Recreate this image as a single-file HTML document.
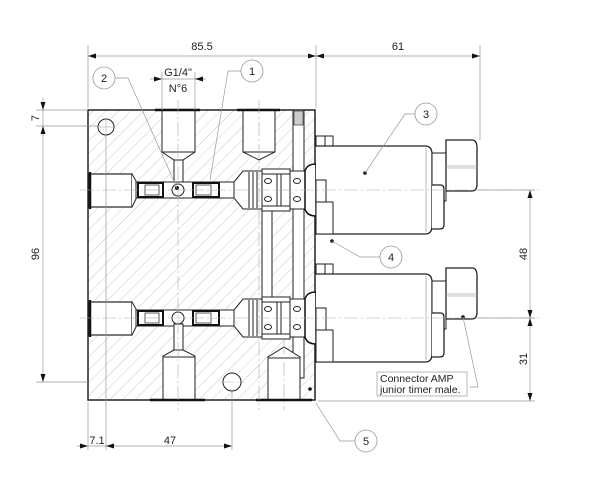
<!DOCTYPE html>
<html><head><meta charset="utf-8"><style>
html,body{margin:0;padding:0;background:#fff;}
svg{display:block;font-family:"Liberation Sans",sans-serif;}
</style></head><body>
<svg width="600" height="503" viewBox="0 0 600 503" xmlns="http://www.w3.org/2000/svg">
<defs>
<pattern id="h" width="9" height="9" patternUnits="userSpaceOnUse" patternTransform="rotate(45)">
<line x1="0" y1="0" x2="0" y2="9" stroke="#bbb" stroke-width="0.8"/>
</pattern>
<g id="valve">
 <!-- left port -->
 <rect x="89" y="-16" width="43" height="33" fill="#fff" stroke="#222" stroke-width="1.2"/>
 <line x1="90" y1="-18" x2="90" y2="19" stroke="#111" stroke-width="2.5"/>
 <path d="M132,-16 L136,-9 L136,9 L132,17" fill="#fff" stroke="#222"/>
 <rect x="136" y="-8" width="100" height="16" fill="#fff" stroke="#222"/>
 <rect x="138" y="-7" width="25" height="14" fill="#fff" stroke="#111" stroke-width="2"/>
 <rect x="145" y="-5" width="14" height="10" fill="#fff" stroke="#333" stroke-width="0.8"/>
 <rect x="193" y="-7" width="26" height="14" fill="#fff" stroke="#111" stroke-width="2"/>
 <rect x="196" y="-5" width="15" height="10" fill="#fff" stroke="#333" stroke-width="0.8"/>
 <!-- cartridge -->
 <path d="M234,-8 L243,-19 L262,-19 L262,19 L243,19 L234,8 Z" fill="#fff" stroke="#222"/>
 <line x1="249" y1="-18" x2="249" y2="18" stroke="#222"/>
 <line x1="253" y1="-18" x2="253" y2="18" stroke="#222"/>
 <line x1="257" y1="-18" x2="257" y2="18" stroke="#222"/>
 <rect x="262" y="-21" width="28" height="42" fill="#fff" stroke="#222"/>
 <line x1="262" y1="-16" x2="290" y2="-16" stroke="#222"/>
 <line x1="262" y1="16" x2="290" y2="16" stroke="#222"/>
 <line x1="277" y1="-16" x2="277" y2="16" stroke="#222"/>
 <line x1="281" y1="-16" x2="281" y2="16" stroke="#222"/>
 <ellipse cx="268" cy="-9" rx="3.5" ry="2.5" fill="none" stroke="#222"/>
 <ellipse cx="268" cy="9" rx="3.5" ry="2.5" fill="none" stroke="#222"/>
 <rect x="290" y="-19" width="15" height="38" fill="#fff" stroke="#222"/>
 <ellipse cx="297" cy="-9" rx="3.5" ry="2.5" fill="none" stroke="#222"/>
 <ellipse cx="297" cy="9" rx="3.5" ry="2.5" fill="none" stroke="#222"/>
 <path d="M305,-19 Q307,-26 316,-26 L316,26 Q307,26 305,19 Z" fill="#fff" stroke="#111" stroke-width="1.5"/>
</g>
<g id="sol">
 <rect x="316" y="-4" width="17" height="10" fill="#fff" stroke="#222"/>
 <line x1="325" y1="-4" x2="325" y2="6" stroke="#222"/>
 <path d="M316,6 L425,6 Q432,6 432,14 L432,86 Q432,94 425,94 L316,94" fill="#fff" stroke="#222" stroke-width="1.3"/>
 <line x1="426" y1="8" x2="426" y2="92" stroke="#999" stroke-width="0.7"/>
 <rect x="316" y="40" width="10" height="42" fill="#fff" stroke="#222"/>
 <rect x="316" y="62" width="17" height="32" fill="#fff" stroke="#222"/>
 <rect x="432" y="13" width="14" height="48" fill="#fff" stroke="#222"/>
 <path d="M432,45 L441,45 Q444,45 444,50 L444,85 Q444,89 440,89 L432,89" fill="#fff" stroke="#222" stroke-width="1.3"/>
 <path d="M446,0 L472,0 Q477,0 477,8 L477,44 Q477,51 472,51 L446,51 Z" fill="#fff" stroke="#222" stroke-width="1.3"/>
 <line x1="446" y1="26" x2="477" y2="26" stroke="#aaa" stroke-width="0.7"/>
 <line x1="446" y1="28" x2="477" y2="28" stroke="#aaa" stroke-width="0.7"/>
</g>
</defs>

<!-- block -->
<rect x="88" y="110" width="227" height="290" fill="url(#h)" stroke="#222" stroke-width="1.5"/>
<!-- right vertical channel -->
<rect x="293" y="110" width="11" height="268" fill="#fff" stroke="#222"/>
<rect x="294" y="111" width="9" height="14" fill="#ccc" stroke="#222" stroke-width="0.6"/>
<!-- middle vertical channel -->
<rect x="262" y="205" width="10" height="95" fill="#fff" stroke="#222"/>

<!-- top ports -->
<path d="M162,110 L195,110 L195,152 L183,160 L174,160 L162,152 Z" fill="#fff" stroke="#222"/>
<line x1="162" y1="152" x2="195" y2="152" stroke="#222"/>
<rect x="174" y="160" width="9" height="25" fill="#fff" stroke="#222"/>
<path d="M243,110 L275,110 L275,152 L259,160 L243,152 Z" fill="#fff" stroke="#222"/>
<line x1="243" y1="152" x2="275" y2="152" stroke="#222"/>
<line x1="155" y1="110" x2="200" y2="110" stroke="#111" stroke-width="2.5"/>
<line x1="237" y1="110" x2="280" y2="110" stroke="#111" stroke-width="2.5"/>

<use href="#valve" y="190"/>
<use href="#valve" y="318"/>
<circle cx="178" cy="190" r="6" fill="#fff" stroke="#222"/>
<circle cx="177" cy="188" r="2" fill="#111"/>
<circle cx="178" cy="318" r="6" fill="#fff" stroke="#222"/>

<!-- bottom ports -->
<rect x="174" y="324" width="9" height="27" fill="#fff" stroke="#222"/>
<path d="M163,400 L163,356 L174,350 L183,350 L195,356 L195,400 Z" fill="#fff" stroke="#222"/>
<line x1="163" y1="357" x2="195" y2="357" stroke="#222"/>
<path d="M268,400 L268,357 L284,347 L300,357 L300,400 Z" fill="#fff" stroke="#222"/>
<line x1="268" y1="358" x2="300" y2="358" stroke="#222"/>
<line x1="150" y1="400" x2="205" y2="400" stroke="#111" stroke-width="2.5"/>
<line x1="256" y1="400" x2="312" y2="400" stroke="#111" stroke-width="2.5"/>

<!-- holes -->
<circle cx="106" cy="127" r="8" fill="#fff" stroke="#222"/>
<circle cx="232" cy="382" r="9" fill="#fff" stroke="#222"/>
<circle cx="310" cy="389" r="1.8" fill="#111"/>

<!-- solenoids -->
<use href="#sol" y="140"/>
<use href="#sol" y="268"/>
<circle cx="365" cy="173" r="1.8" fill="#111"/>
<circle cx="332" cy="241" r="1.8" fill="#111"/>
<circle cx="463" cy="317" r="1.8" fill="#111"/>

<!-- centre lines -->
<g stroke="#aaa" stroke-width="0.6" stroke-dasharray="14,3,2,3" fill="none">
<line x1="80" y1="190" x2="540" y2="190"/>
<line x1="80" y1="318" x2="540" y2="318"/>
<line x1="178" y1="100" x2="178" y2="410"/>
<line x1="259" y1="100" x2="259" y2="410"/>
<line x1="284" y1="340" x2="284" y2="410"/>
<line x1="100" y1="127" x2="114" y2="127"/>
<line x1="106" y1="118" x2="106" y2="136"/>
<line x1="220" y1="382" x2="244" y2="382"/>
</g>

<!-- dimension lines -->
<g stroke="#999" stroke-width="0.7" fill="none">
<line x1="88" y1="45" x2="88" y2="108"/>
<line x1="316" y1="45" x2="316" y2="108"/>
<line x1="480" y1="45" x2="480" y2="140"/>
<line x1="88" y1="56" x2="480" y2="56"/>
<line x1="162" y1="72" x2="162" y2="110"/>
<line x1="195" y1="72" x2="195" y2="110"/>
<line x1="150" y1="79" x2="206" y2="79"/>
<line x1="36" y1="110" x2="88" y2="110"/>
<line x1="36" y1="126" x2="100" y2="126"/>
<line x1="36" y1="382" x2="88" y2="382"/>
<line x1="43" y1="98" x2="43" y2="382"/>
<line x1="478" y1="190" x2="535" y2="190"/>
<line x1="478" y1="318" x2="535" y2="318"/>
<line x1="318" y1="401" x2="535" y2="401"/>
<line x1="530" y1="190" x2="530" y2="401"/>
<line x1="88" y1="402" x2="88" y2="450"/>
<line x1="106" y1="136" x2="106" y2="450"/>
<line x1="232" y1="391" x2="232" y2="450"/>
<line x1="77" y1="446" x2="232" y2="446"/>
</g>
<g fill="#111">
<path d="M88,56 l8,-2.5 v5z"/><path d="M316,56 l-8,-2.5 v5z"/>
<path d="M316,56 l8,-2.5 v5z"/><path d="M480,56 l-8,-2.5 v5z"/>
<path d="M162,79 l-8,-2.5 v5z"/><path d="M195,79 l8,-2.5 v5z"/>
<path d="M43,110 l-2.5,-8 h5z"/><path d="M43,126 l-2.5,8 h5z"/>
<path d="M43,382 l-2.5,-8 h5z"/>
<path d="M530,190 l-2.5,8 h5z"/><path d="M530,318 l-2.5,-8 h5z"/>
<path d="M530,318 l-2.5,8 h5z"/><path d="M530,401 l-2.5,-8 h5z"/>
<path d="M88,446 l-8,-2.5 v5z"/><path d="M106,446 l8,-2.5 v5z"/>
<path d="M232,446 l-8,-2.5 v5z"/>
</g>
<g font-size="11" fill="#222" text-anchor="middle">
<text x="202" y="50">85.5</text>
<text x="398" y="50">61</text>
<text x="178" y="76">G1/4"</text>
<text x="178" y="92">N°6</text>
<text x="97" y="444">7.1</text>
<text x="170" y="444">47</text>
<text transform="translate(39,118) rotate(-90)">7</text>
<text transform="translate(39,254) rotate(-90)">96</text>
<text transform="translate(527,254) rotate(-90)">48</text>
<text transform="translate(527,359) rotate(-90)">31</text>
</g>

<!-- leaders & balloons -->
<g stroke="#999" stroke-width="0.7" fill="none">
<path d="M115,78 L128,78 L177,188"/>
<path d="M241,71 L228,71 L210,180"/>
<path d="M415,114 L405,114 L365,173"/>
<path d="M380,257 L360,257 L332,241"/>
<path d="M355,441 L340,441 L316,403"/>
<path d="M463,317 L478,387 L470,387"/>
</g>
<g fill="#fff" stroke="#999" stroke-width="0.8">
<circle cx="104" cy="78" r="11"/>
<circle cx="252" cy="71" r="11"/>
<circle cx="426" cy="114" r="11"/>
<circle cx="391" cy="257" r="11"/>
<circle cx="366" cy="441" r="11"/>
</g>
<g font-size="11" fill="#222" text-anchor="middle">
<text x="104" y="82">2</text>
<text x="252" y="75">1</text>
<text x="426" y="118">3</text>
<text x="391" y="261">4</text>
<text x="366" y="445">5</text>
</g>
<rect x="377" y="372" width="90" height="24" fill="#fff" stroke="#999" stroke-width="0.7"/>
<text x="380" y="382" font-size="10.5" fill="#222">Connector AMP</text>
<text x="380" y="393" font-size="10.5" fill="#222">junior timer male.</text>
</svg>
</body></html>
